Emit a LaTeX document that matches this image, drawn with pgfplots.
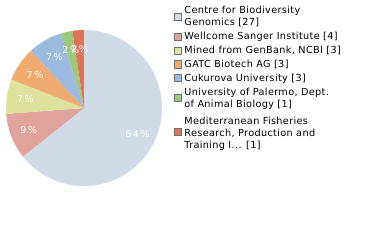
\documentclass[border=0pt]{standalone}
\usepackage{pgfplots}
\pgfplotsset{compat=1.18}
\usepackage{fontspec}
\setmainfont{DejaVu Sans}
\newfontfamily\legfont[LetterSpace=3.5]{DejaVu Sans}
\definecolor{cA}{RGB}{207,219,231}
\definecolor{cB}{RGB}{224,164,156}
\definecolor{cC}{RGB}{221,227,156}
\definecolor{cD}{RGB}{240,172,112}
\definecolor{cE}{RGB}{157,187,224}
\definecolor{cF}{RGB}{157,201,122}
\definecolor{cG}{RGB}{224,116,90}
% counts
\def\nA{27}\def\nB{4}\def\nC{3}\def\nD{3}\def\nE{3}\def\nF{1}\def\nG{1}
\pgfmathsetmacro\tot{\nA+\nB+\nC+\nD+\nE+\nF+\nG}
\pgfmathsetmacro\aO{90}
\pgfmathsetmacro\aA{\aO-\nA/\tot*360}
\pgfmathsetmacro\aB{\aA-\nB/\tot*360}
\pgfmathsetmacro\aC{\aB-\nC/\tot*360}
\pgfmathsetmacro\aD{\aC-\nD/\tot*360}
\pgfmathsetmacro\aE{\aD-\nE/\tot*360}
\pgfmathsetmacro\aF{\aE-\nF/\tot*360}
\pgfmathsetmacro\aG{\aF-\nG/\tot*360}
\newcommand{\lbl}[3]{% start end text
  \pgfmathsetmacro\mid{(#1+#2)/2}%
  \edef\tmp{\noexpand\node[text=white,font=\noexpand\fontsize{9.5}{10}\noexpand\selectfont] at (axis cs:{0.76*cos(\mid)},{0.76*sin(\mid)}) {#3};}%
  \tmp}
\begin{document}
\begin{tikzpicture}
\useasboundingbox (0,0) rectangle (380pt,240pt);
\begin{axis}[
  at={(84pt,132pt)}, anchor=center,
  width=156pt, height=156pt, scale only axis,
  xmin=-1, xmax=1, ymin=-1, ymax=1,
  hide axis, clip=false,
  legend style={at={(1.077,1.165)}, anchor=north west, draw=none, fill=none,
    font=\legfont\fontsize{9.7}{12}\selectfont, cells={anchor=west, align=left},
    row sep=1pt, inner sep=0pt,
    /tikz/every even column/.append style={column sep=9pt}},
  legend image code/.code={\draw[#1, draw=gray!90!black, line width=1pt] (0pt,-3.6pt) rectangle (7.2pt,3.6pt);},
]
\addplot[draw=none, fill=cA, domain=\aA:\aO, samples=60] ({cos(x)},{sin(x)}) -- (axis cs:0,0) -- cycle;
\addlegendentry{Centre for Biodiversity\\Genomics [27]}
\addplot[draw=none, fill=cB, domain=\aB:\aA, samples=20] ({cos(x)},{sin(x)}) -- (axis cs:0,0) -- cycle;
\addlegendentry{Wellcome Sanger Institute [4]}
\addplot[draw=none, fill=cC, domain=\aC:\aB, samples=20] ({cos(x)},{sin(x)}) -- (axis cs:0,0) -- cycle;
\addlegendentry{Mined from GenBank, NCBI [3]}
\addplot[draw=none, fill=cD, domain=\aD:\aC, samples=20] ({cos(x)},{sin(x)}) -- (axis cs:0,0) -- cycle;
\addlegendentry{GATC Biotech AG [3]}
\addplot[draw=none, fill=cE, domain=\aE:\aD, samples=20] ({cos(x)},{sin(x)}) -- (axis cs:0,0) -- cycle;
\addlegendentry{Cukurova University [3]}
\addplot[draw=none, fill=cF, domain=\aF:\aE, samples=10] ({cos(x)},{sin(x)}) -- (axis cs:0,0) -- cycle;
\addlegendentry{University of Palermo, Dept.\\of Animal Biology [1]}
\addplot[draw=none, fill=cG, domain=\aG:\aF, samples=10] ({cos(x)},{sin(x)}) -- (axis cs:0,0) -- cycle;
\addlegendentry{\rule{0pt}{11pt}Mediterranean Fisheries\\Research, Production and\\Training I... [1]}
\lbl{\aO}{\aA}{6\,4\,\%}
\lbl{\aA}{\aB}{9\,\%}
\lbl{\aB}{\aC}{7\,\%}
\lbl{\aC}{\aD}{7\,\%}
\lbl{\aD}{\aE}{7\,\%}
\lbl{\aE}{\aF}{2\,\%}
\lbl{\aF}{\aG}{2\,\%}
\end{axis}
\end{tikzpicture}
\end{document}
